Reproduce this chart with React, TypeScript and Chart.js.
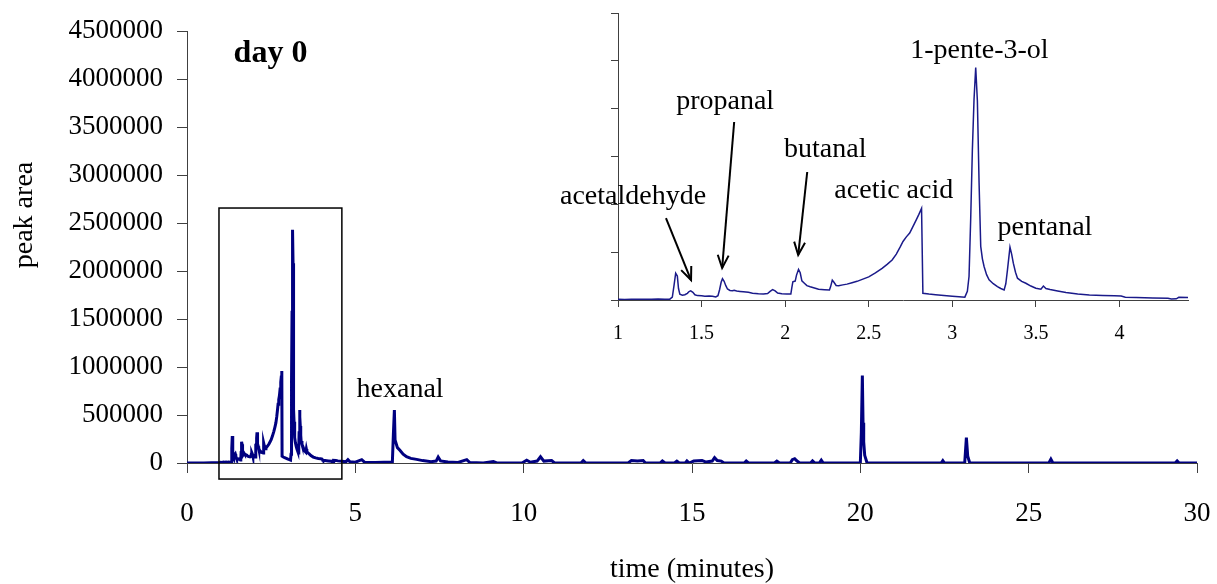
import React, { useEffect, useRef } from "react";
import { Chart, registerables } from "chart.js";

Chart.register(...registerables);

// ---------- DATA ----------
const retentionTimes = [
  0, 0.5, 0.98, 1.0, 1.04, 1.08, 1.12, 1.16, 1.2, 1.24, 1.28, 1.31, 1.325, 1.335, 1.345, 1.355, 1.362, 1.37,
  1.385, 1.4, 1.415, 1.425, 1.435, 1.448, 1.46, 1.475, 1.5, 1.52, 1.545, 1.565, 1.585, 1.598, 1.608, 1.617,
  1.625, 1.635, 1.645, 1.655, 1.67, 1.685, 1.695, 1.71, 1.73, 1.75, 1.78, 1.805, 1.84, 1.87, 1.895, 1.91,
  1.925, 1.94, 1.955, 1.98, 2.01, 2.034, 2.04, 2.046, 2.06, 2.068, 2.08, 2.09, 2.1, 2.115, 2.13, 2.15,
  2.175, 2.2, 2.235, 2.265, 2.272, 2.282, 2.292, 2.305, 2.32, 2.345, 2.37, 2.4, 2.43, 2.465, 2.5, 2.54,
  2.58, 2.61, 2.64, 2.665, 2.69, 2.705, 2.725, 2.745, 2.765, 2.785, 2.8, 2.816, 2.824, 2.86, 2.9, 2.95,
  3.0, 3.04, 3.075, 3.09, 3.1, 3.11, 3.12, 3.13, 3.14, 3.15, 3.16, 3.17, 3.18, 3.19, 3.205, 3.22,
  3.245, 3.27, 3.29, 3.31, 3.32, 3.33, 3.345, 3.355, 3.365, 3.378, 3.39, 3.415, 3.44, 3.47, 3.5, 3.53,
  3.545, 3.56, 3.585, 3.63, 3.68, 3.75, 3.82, 3.9, 3.97, 4.01, 4.035, 4.1, 4.2, 4.29, 4.31, 4.34,
  4.355, 4.42, 4.48, 4.6, 4.72, 4.78, 4.84, 5.0, 5.19, 5.28, 5.6, 5.85, 6.1, 6.13, 6.16, 6.18,
  6.25, 6.33, 6.42, 6.52, 6.65, 6.82, 7.0, 7.25, 7.4, 7.46, 7.53, 7.75, 8.05, 8.31, 8.4, 8.8,
  9.1, 9.2, 9.95, 10.09, 10.2, 10.4, 10.5, 10.6, 10.83, 10.92, 11.7, 11.77, 11.85, 13.1, 13.2, 13.38,
  13.55, 13.62, 14.05, 14.12, 14.2, 14.48, 14.55, 14.62, 14.8, 14.85, 14.92, 15.05, 15.3, 15.42, 15.6, 15.67,
  15.75, 15.87, 15.95, 16.55, 16.61, 16.68, 17.45, 17.52, 17.6, 17.92, 17.98, 18.05, 18.12, 18.2, 18.52, 18.58,
  18.65, 18.78, 18.84, 18.9, 20.0, 20.03, 20.06, 20.08, 20.1, 20.13, 20.2, 22.4, 22.45, 22.5, 23.1, 23.15,
  23.19, 23.25, 25.6, 25.66, 25.72, 29.35, 29.41, 29.47, 30,
];

const peakAreas = [
  0, 0, 6000, 8000, 6000, 9000, 7000, 9000, 7000, 10000, 8000, 9000, 30000, 150000, 280000, 250000, 120000, 60000,
  50000, 55000, 70000, 88000, 95000, 80000, 55000, 46000, 44000, 40000, 42000, 40000, 32000, 45000, 110000, 185000,
  222000, 195000, 150000, 115000, 100000, 96000, 102000, 94000, 90000, 86000, 80000, 71000, 66000, 63000, 68000, 90000,
  108000, 95000, 72000, 66000, 63000, 62000, 130000, 190000, 198000, 260000, 320000, 285000, 200000, 175000, 150000, 138000,
  125000, 113000, 108000, 104000, 140000, 208000, 185000, 152000, 148000, 158000, 166000, 180000, 195000, 218000, 242000, 283000,
  330000, 372000, 418000, 480000, 560000, 612000, 660000, 700000, 770000, 840000, 895000, 958000, 70000, 62000, 55000, 48000,
  40000, 35000, 30000, 90000, 245000, 850000, 1570000, 2100000, 2430000, 2080000, 1230000, 560000, 430000, 350000, 265000, 212000,
  170000, 140000, 120000, 104000, 170000, 315000, 552000, 480000, 385000, 290000, 228000, 195000, 175000, 146000, 123000, 112000,
  146000, 120000, 110000, 94000, 78000, 62000, 53000, 48000, 45000, 42000, 29000, 26000, 22000, 18000, 10000, 12000,
  28000, 27000, 22000, 18000, 12000, 35000, 12000, 8000, 35000, 6000, 4000, 8000, 10000, 300000, 552000, 240000,
  160000, 130000, 92000, 65000, 48000, 38000, 25000, 14000, 20000, 62000, 22000, 10000, 6000, 35000, 5000, 0,
  15000, 0, 0, 30000, 8000, 20000, 65000, 20000, 25000, 0, 0, 25000, 0, 0, 25000, 20000,
  25000, 0, 0, 22000, 0, 0, 20000, 0, 0, 22000, 0, 20000, 25000, 10000, 20000, 55000,
  25000, 20000, 0, 0, 20000, 0, 0, 20000, 0, 0, 35000, 45000, 20000, 0, 0, 22000,
  0, 0, 30000, 0, 0, 320000, 910000, 420000, 220000, 80000, 0, 0, 25000, 0, 0, 265000,
  70000, 0, 0, 40000, 0, 0, 22000, 0, 0,
];

const mainXTicks = [0, 5, 10, 15, 20, 25, 30];
const mainYTicks = [0, 500000, 1000000, 1500000, 2000000, 2500000, 3000000, 3500000, 4000000, 4500000];
const insetXTicks = [1, 1.5, 2, 2.5, 3, 3.5, 4];
const insetYTicks = [0, 500000, 1000000, 1500000, 2000000, 2500000, 3000000];

// labels in data coordinates [text, time, area]
const mainLabels: [string, number, number][] = [["hexanal", 6.33, 691000]];
const insetLabels: [string, number, number][] = [
  ["acetaldehyde", 1.09, 1003000],
  ["propanal", 1.641, 1997000],
  ["butanal", 2.24, 1495000],
  ["acetic acid", 2.65, 1066000],
  ["1-pente-3-ol", 3.162, 2530000],
  ["pentanal", 3.554, 679000],
];
// arrows [t1, v1, t2, v2]
const insetArrows: [number, number, number, number][] = [
  [1.287, 857000, 1.437, 209000],
  [1.695, 1861000, 1.623, 334000],
  [2.132, 1338000, 2.078, 470000],
];
// zoom box [t1, v1, t2, v2]
const zoomBox: [number, number, number, number] = [0.95, 2656000, 4.6, -167000];

const SERIF = '"Liberation Serif", "Times New Roman", Times, serif';
const W = 1217;
const H = 584;

function points() {
  return retentionTimes.map((t, i) => ({ x: t, y: peakAreas[i] }));
}

function setTicks(arr: number[]) {
  return (scale: any) => {
    scale.ticks = arr.map((v) => ({ value: v }));
  };
}

function drawArrow(ctx: CanvasRenderingContext2D, x1: number, y1: number, x2: number, y2: number) {
  ctx.beginPath();
  ctx.moveTo(x1, y1);
  ctx.lineTo(x2, y2);
  ctx.stroke();
  const ang = Math.atan2(y2 - y1, x2 - x1);
  const len = 14;
  const spread = 0.4;
  ctx.beginPath();
  ctx.moveTo(x2 - len * Math.cos(ang - spread), y2 - len * Math.sin(ang - spread));
  ctx.lineTo(x2, y2);
  ctx.lineTo(x2 - len * Math.cos(ang + spread), y2 - len * Math.sin(ang + spread));
  ctx.stroke();
}

const mainAnnot = {
  id: "mainAnnot",
  afterDraw(chart: any) {
    const ctx = chart.ctx as CanvasRenderingContext2D;
    const xs = chart.scales.x;
    const ys = chart.scales.y;
    ctx.save();
    // zoom box
    const bx1 = xs.getPixelForValue(zoomBox[0]);
    const by1 = ys.getPixelForValue(zoomBox[1]);
    const bx2 = xs.getPixelForValue(zoomBox[2]);
    const by2 = ys.getPixelForValue(zoomBox[3]);
    ctx.strokeStyle = "#000";
    ctx.lineWidth = 1.5;
    ctx.strokeRect(bx1, by1, bx2 - bx1, by2 - by1);
    // labels
    ctx.fillStyle = "#000";
    ctx.textAlign = "center";
    ctx.textBaseline = "alphabetic";
    ctx.font = `28px ${SERIF}`;
    mainLabels.forEach(([txt, t, v]) => {
      ctx.fillText(txt, xs.getPixelForValue(t), ys.getPixelForValue(v));
    });
    // day 0
    ctx.font = `bold 32px ${SERIF}`;
    ctx.fillText("day 0", xs.getPixelForValue(2.48), ys.getPixelForValue(4177000));
    // axis titles
    ctx.font = `28px ${SERIF}`;
    ctx.textBaseline = "middle";
    ctx.fillText("time (minutes)", (chart.chartArea.left + chart.chartArea.right) / 2, 570);
    ctx.save();
    ctx.translate(25, 215);
    ctx.rotate(-Math.PI / 2);
    ctx.fillText("peak area", 0, 0);
    ctx.restore();
    ctx.restore();
  },
};

const insetAnnot = {
  id: "insetAnnot",
  afterDraw(chart: any) {
    const ctx = chart.ctx as CanvasRenderingContext2D;
    const xs = chart.scales.x;
    const ys = chart.scales.y;
    ctx.save();
    ctx.fillStyle = "#000";
    ctx.textAlign = "center";
    ctx.textBaseline = "alphabetic";
    ctx.font = `28px ${SERIF}`;
    insetLabels.forEach(([txt, t, v]) => {
      ctx.fillText(txt, xs.getPixelForValue(t), ys.getPixelForValue(v));
    });
    ctx.strokeStyle = "#000";
    ctx.lineWidth = 2;
    insetArrows.forEach(([t1, v1, t2, v2]) => {
      drawArrow(
        ctx,
        xs.getPixelForValue(t1),
        ys.getPixelForValue(v1),
        xs.getPixelForValue(t2),
        ys.getPixelForValue(v2)
      );
    });
    ctx.restore();
  },
};

const AXIS = "#404040";

export default function App() {
  const mainRef = useRef<HTMLCanvasElement | null>(null);
  const insetRef = useRef<HTMLCanvasElement | null>(null);

  useEffect(() => {
    const mainChart = new Chart(mainRef.current as HTMLCanvasElement, {
      type: "line",
      data: {
        datasets: [
          {
            data: points(),
            borderColor: "#000080",
            borderWidth: 3,
            pointRadius: 0,
            tension: 0,
            fill: false,
          },
        ],
      },
      options: {
        animation: false,
        responsive: false,
        events: [],
        layout: { padding: { left: 0, right: 20, top: 31, bottom: 0 } },
        plugins: { legend: { display: false }, tooltip: { enabled: false } },
        scales: {
          x: {
            type: "linear",
            min: 0,
            max: 30,
            afterBuildTicks: setTicks(mainXTicks),
            afterFit: (s: any) => {
              s.height = 121;
              s.paddingLeft = 0;
              s.paddingRight = 0;
            },
            grid: { drawOnChartArea: false, drawTicks: true, tickLength: 10, color: AXIS, tickColor: AXIS },
            border: { color: AXIS, width: 1 },
            ticks: {
              font: { family: SERIF, size: 27 },
              color: "#000",
              padding: 25,
              maxRotation: 0,
              autoSkip: false,
              callback: (v: any) => String(v),
            },
          },
          y: {
            type: "linear",
            min: 0,
            max: 4500000,
            afterBuildTicks: setTicks(mainYTicks),
            afterFit: (s: any) => {
              s.width = 187;
              s.paddingTop = 0;
              s.paddingBottom = 0;
            },
            grid: { drawOnChartArea: false, drawTicks: true, tickLength: 10, color: AXIS, tickColor: AXIS },
            border: { color: AXIS, width: 1 },
            ticks: {
              font: { family: SERIF, size: 27 },
              color: "#000",
              padding: 14,
              autoSkip: false,
              callback: (v: any) => String(v),
            },
          },
        },
      },
      plugins: [mainAnnot],
    } as any);

    const insetChart = new Chart(insetRef.current as HTMLCanvasElement, {
      type: "line",
      data: {
        datasets: [
          {
            data: points(),
            borderColor: "#1a1a8a",
            borderWidth: 1.5,
            pointRadius: 0,
            tension: 0,
            fill: false,
          },
        ],
      },
      options: {
        animation: false,
        responsive: false,
        events: [],
        layout: { padding: { left: 598, right: 29, top: 13, bottom: 224 } },
        plugins: { legend: { display: false }, tooltip: { enabled: false } },
        scales: {
          x: {
            type: "linear",
            min: 1,
            max: 4.41,
            afterBuildTicks: setTicks(insetXTicks),
            afterFit: (s: any) => {
              s.height = 60;
              s.paddingLeft = 0;
              s.paddingRight = 0;
            },
            grid: { drawOnChartArea: false, drawTicks: true, tickLength: 7, color: AXIS, tickColor: AXIS },
            border: { color: AXIS, width: 1 },
            ticks: {
              font: { family: SERIF, size: 20 },
              color: "#000",
              padding: 15,
              maxRotation: 0,
              autoSkip: false,
              callback: (v: any) => String(v),
            },
          },
          y: {
            type: "linear",
            min: 0,
            max: 3000000,
            afterBuildTicks: setTicks(insetYTicks),
            afterFit: (s: any) => {
              s.width = 20;
              s.paddingTop = 0;
              s.paddingBottom = 0;
            },
            grid: { drawOnChartArea: false, drawTicks: true, tickLength: 7, color: AXIS, tickColor: AXIS },
            border: { color: AXIS, width: 1 },
            ticks: {
              font: { family: SERIF, size: 20 },
              color: "#000",
              padding: 2,
              autoSkip: false,
              callback: () => "",
            },
          },
        },
      },
      plugins: [insetAnnot],
    } as any);

    return () => {
      mainChart.destroy();
      insetChart.destroy();
    };
  }, []);

  return (
    <div style={{ position: "fixed", left: 0, top: 0, width: W, height: H, background: "#fff" }}>
      <canvas ref={mainRef} width={W} height={H} style={{ position: "absolute", left: 0, top: 0 }} />
      <canvas ref={insetRef} width={W} height={H} style={{ position: "absolute", left: 0, top: 0 }} />
    </div>
  );
}
